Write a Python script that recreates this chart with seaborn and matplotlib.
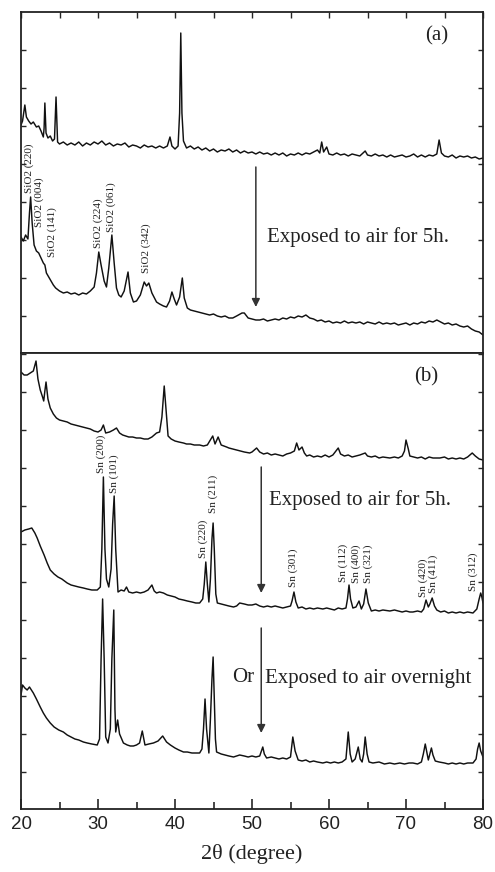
import matplotlib
matplotlib.use("Agg")
import matplotlib.pyplot as plt
import seaborn as sns
import pandas as pd

# ---------------- data (2theta, intensity a.u.) ----------------
# panel (a): as prepared
a1_x = [20.0,20.2,20.5,20.7,21.0,21.3,21.6,22.0,22.3,22.6,22.9,23.0,23.1,23.25,23.5,23.8,24.1,24.35,24.55,24.75,
        25.0,25.5,26.0,26.5,27.0,27.5,28.0,28.5,29.0,29.5,30.0,30.5,31.0,31.5,32.0,32.5,33.0,33.5,34.0,34.5,
        35.0,35.5,36.0,36.5,37.0,37.5,38.0,38.5,39.0,39.35,39.6,40.0,40.4,40.6,40.75,40.9,41.1,41.5,42.0,42.5,
        43.0,43.5,44.0,44.5,45.0,45.5,46.0,46.5,47.0,47.5,48.0,48.5,49.0,49.5,50.0,50.5,51.0,51.5,52.0,52.5,
        53.0,53.5,54.0,54.5,55.0,55.5,56.0,56.5,57.0,57.5,58.0,58.5,58.8,59.05,59.3,59.7,60.0,60.5,61.0,61.5,
        62.0,62.5,63.0,63.5,64.0,64.7,65.0,65.5,66.0,66.5,67.0,67.5,68.0,68.5,69.0,69.5,70.0,70.5,71.0,71.5,
        72.0,72.5,73.0,73.5,74.0,74.3,74.6,75.0,75.5,76.0,76.5,77.0,77.5,78.0,78.5,79.0,79.5,80.0]
a1_y = [228,232,248,236,232,229,231,226,227,222,216,225,250,220,215,217,212,214,256,211,
        209,211,208,210,208,211,207,210,208,211,209,212,208,210,207,209,208,210,206,208,
        207,205,208,206,207,205,207,205,207,216,207,204,207,240,320,240,212,205,207,204,
        206,203,205,202,204,201,203,202,204,201,203,200,202,200,201,199,201,199,200,198,
        200,198,200,197,199,198,200,198,200,199,201,203,200,211,201,206,199,198,200,198,
        199,197,199,198,197,202,198,197,199,197,198,196,198,196,197,198,196,197,199,196,
        198,196,198,197,199,213,200,197,196,198,195,197,196,197,195,196,194,195]

# panel (a): exposed to air 5 h (SiO2)
a2_x = [20.0,20.3,20.6,20.9,21.1,21.25,21.45,21.7,21.8,22.0,22.3,22.6,22.9,23.1,23.3,23.6,23.9,24.2,24.5,25.0,
        25.5,26.0,26.5,27.0,27.5,28.0,28.5,29.0,29.5,29.8,30.1,30.4,30.8,31.1,31.4,31.8,32.1,32.4,32.7,33.0,
        33.4,33.9,34.2,34.6,35.0,35.5,36.0,36.3,36.6,37.0,37.6,38.0,38.5,38.9,39.3,39.6,39.9,40.2,40.6,40.95,
        41.2,41.6,42.0,42.5,43.0,43.5,44.0,44.5,45.0,45.5,46.0,46.5,47.0,47.5,48.0,48.7,49.0,49.5,50.0,50.5,
        51.0,51.5,52.0,52.5,53.0,53.5,54.0,54.5,55.0,55.5,56.0,56.5,57.0,57.5,58.0,58.5,59.0,59.5,60.0,60.5,
        61.0,61.5,62.0,62.5,63.0,63.5,64.0,64.5,65.0,65.5,66.0,66.5,67.0,67.5,68.0,68.5,69.0,69.5,70.0,70.5,
        71.0,71.5,72.0,72.5,73.0,73.5,74.0,74.5,75.0,75.5,76.0,76.5,77.0,77.5,78.0,78.5,79.0,79.5,80.0]
a2_y = [116,112,118,114,140,156,130,108,106,102,100,95,90,88,80,76,72,68,65,62,
        60,61,59,60,58,60,59,62,66,80,101,88,72,66,85,118,90,65,58,56,
        62,81,60,51,52,58,71,67,70,60,51,49,47,46,52,61,54,48,56,75,
        55,45,43,42,41,40,39,38,39,37,36,37,35,35,37,40,40,35,34,33,
        33,34,32,33,34,33,35,34,36,35,37,36,38,35,34,32,33,31,32,30,
        31,30,32,30,31,30,31,29,31,30,29,31,29,30,29,30,28,29,30,28,
        30,29,31,30,32,31,33,31,29,30,28,29,27,26,27,24,22,21,18]

# panel (b): as prepared
b1_x = [20.0,20.4,20.8,21.2,21.6,21.95,22.2,22.5,22.8,22.95,23.1,23.25,23.5,23.8,24.2,24.6,25.0,25.5,26.0,26.5,
        27.0,27.5,28.0,28.5,29.0,29.5,30.0,30.4,30.7,31.0,31.5,32.0,32.4,32.8,33.2,33.6,34.0,34.5,35.0,35.5,
        36.0,36.5,37.0,37.6,38.0,38.3,38.6,38.85,39.1,39.5,40.0,40.5,41.1,41.5,42.0,42.5,43.2,43.7,44.2,44.9,
        45.2,45.6,46.0,46.7,47.0,47.5,48.0,48.5,49.0,49.7,50.0,50.6,51.0,51.5,52.0,52.5,53.0,53.5,54.0,54.5,
        55.0,55.5,55.8,56.1,56.5,56.8,57.1,57.5,58.0,58.5,59.0,59.5,60.0,60.5,61.2,61.5,62.0,62.5,63.0,63.5,
        64.0,64.7,65.0,65.5,66.0,66.5,67.0,67.9,68.5,69.0,69.5,69.8,70.0,70.3,70.5,71.0,71.5,72.0,72.5,73.0,
        73.5,74.4,75.0,75.5,76.0,76.5,77.0,77.5,78.0,78.6,79.0,79.5,80.0]
b1_y = [437,434,434,436,438,448,430,419,412,408,418,427,410,401,395,391,389,388,387,385,
        384,383,382,381,380,378,377,379,384,376,377,379,381,376,374,373,372,372,371,371,
        370,370,372,376,377,392,423,398,373,370,368,367,366,365,365,364,364,363,364,373,
        365,372,364,362,361,360,359,358,357,356,357,361,357,355,356,354,355,354,353,355,
        356,358,366,359,362,356,353,354,352,353,352,354,352,354,361,355,353,354,352,353,
        354,356,353,352,353,351,352,351,352,351,353,358,369,360,353,352,351,352,350,352,
        351,351,352,350,351,350,351,350,352,356,353,350,349]

# panel (b): exposed to air 5 h (Sn)
b2_x = [20.0,20.5,21.0,21.4,21.8,22.1,22.5,23.0,23.4,23.8,24.3,24.8,25.3,26.0,26.5,27.0,27.5,28.1,28.6,29.2,
        29.9,30.3,30.5,30.7,30.9,31.1,31.4,31.7,31.9,32.1,32.3,32.6,33.0,33.4,33.7,34.0,34.5,35.0,35.5,36.0,
        36.5,37.0,37.3,37.6,38.0,38.5,39.0,39.5,40.0,40.5,41.1,41.6,42.2,42.7,43.2,43.6,43.8,44.0,44.2,44.4,
        44.6,44.8,44.95,45.1,45.3,45.5,46.0,46.5,47.0,47.6,48.0,48.4,49.0,49.5,50.0,50.5,51.0,51.5,52.0,52.5,
        53.0,53.5,54.0,54.5,55.0,55.2,55.45,55.7,56.0,56.5,57.0,57.5,58.0,58.5,59.2,59.7,60.2,60.7,61.2,61.7,
        62.2,62.4,62.6,62.8,63.1,63.5,63.9,64.2,64.5,64.8,65.1,65.5,66.0,66.5,67.0,67.9,68.5,69.0,69.5,70.0,
        70.5,70.9,71.5,72.0,72.3,72.6,72.9,73.1,73.4,73.7,74.0,74.5,75.0,75.5,76.0,76.5,77.0,77.5,78.0,78.7,
        79.2,79.5,79.7,79.85,80.0]
b2_y = [277,279,280,281,276,271,263,254,246,239,235,232,230,226,224,223,222,221,220,219,
        219,222,260,332,260,230,222,240,285,313,260,217,219,218,222,217,216,217,216,217,
        219,224,218,216,217,216,214,213,212,210,209,208,207,206,206,210,225,247,225,207,
        230,270,286,260,215,206,205,204,203,202,203,206,205,204,204,205,203,202,203,202,
        203,202,201,202,203,208,217,207,201,202,200,201,200,201,200,201,200,199,201,200,
        201,210,224,210,201,202,208,200,205,220,206,198,199,198,199,198,199,198,197,198,
        197,197,198,197,200,209,202,205,211,203,199,197,198,196,197,196,197,196,197,196,
        200,210,216,212,206]

# panel (b): exposed to air overnight
b3_x = [20.0,20.2,20.5,20.8,21.1,21.6,22.0,22.5,22.9,23.3,23.8,24.3,24.9,25.5,26.0,26.5,27.0,27.5,28.1,28.6,
        29.2,29.9,30.2,30.4,30.6,30.8,31.0,31.3,31.6,31.8,32.05,32.2,32.3,32.55,32.8,33.3,33.8,34.2,34.6,35.0,
        35.4,35.75,36.1,36.6,37.2,37.8,38.4,38.9,39.4,40.0,40.5,41.1,41.6,42.2,42.7,43.2,43.5,43.7,43.9,44.1,
        44.4,44.6,44.8,44.95,45.1,45.25,45.4,46.0,46.5,47.0,47.6,48.0,48.4,49.0,49.5,50.0,50.5,51.0,51.4,51.6,
        51.9,52.5,53.0,53.5,54.0,54.5,55.0,55.3,55.6,56.0,56.5,57.0,57.5,58.0,58.5,59.2,59.7,60.2,60.7,61.2,
        61.7,62.2,62.5,62.75,63.0,63.4,63.8,64.05,64.3,64.5,64.7,64.95,65.2,65.7,66.5,67.2,67.9,68.5,69.2,69.8,
        70.4,70.9,71.5,72.0,72.25,72.5,72.75,72.9,73.1,73.3,73.5,73.8,74.3,75.0,75.5,76.0,76.5,77.0,77.5,78.0,
        78.7,79.1,79.3,79.5,79.7,80.0]
b3_y = [114,124,121,119,122,116,110,102,96,91,86,82,79,77,74,72,70,69,67,66,
        65,64,70,150,210,150,72,66,80,150,199,100,77,89,75,66,64,63,63,64,
        66,78,64,65,66,68,73,67,64,61,59,57,57,56,56,56,60,80,110,80,
        56,90,130,152,110,70,57,55,54,53,52,53,54,53,52,53,52,53,62,55,
        51,52,51,50,51,50,52,72,58,49,48,49,47,48,47,46,47,46,47,46,
        47,50,77,55,47,50,62,50,47,55,72,55,47,46,47,45,46,45,46,45,
        46,46,45,47,55,65,55,49,55,61,54,48,47,46,45,46,45,46,45,46,
        46,50,60,66,58,52]

sio2_labels = ["SiO2 (220)", "SiO2 (004)", "SiO2 (141)", "SiO2 (224)", "SiO2 (061)", "SiO2 (342)"]
sio2_pos = [21.0, 22.3, 24.0, 30.0, 31.7, 36.2]
sio2_h = [160, 126, 96, 105, 121, 80]

sn_labels = ["Sn (200)", "Sn (101)", "Sn (220)", "Sn (211)", "Sn (301)", "Sn (112)",
             "Sn (400)", "Sn (321)", "Sn (420)", "Sn (411)", "Sn (312)"]
sn_pos = [30.4, 32.1, 43.6, 44.95, 55.3, 61.8, 63.5, 65.1, 72.2, 73.5, 78.7]
sn_h = [336, 316, 251, 296, 222, 227, 226, 226, 212, 216, 218]

x_ticks = [20, 30, 40, 50, 60, 70, 80]

# ---------------- figure ----------------
sns.set_style("ticks")
plt.rcParams["font.family"] = ["Liberation Serif", "DejaVu Serif"]

fig = plt.figure(figsize=(4.95, 8.72), dpi=100)
gs = fig.add_gridspec(2, 1, height_ratios=[341, 456], hspace=0,
                      left=21/495, right=483/495, top=1-12/872, bottom=1-809/872)
axa = fig.add_subplot(gs[0])
axb = fig.add_subplot(gs[1], sharex=axa)

lw = 1.05
for ax, curves in ((axa, [(a1_x, a1_y), (a2_x, a2_y)]),
                   (axb, [(b1_x, b1_y), (b2_x, b2_y), (b3_x, b3_y)])):
    for xs, ys in curves:
        df = pd.DataFrame({"x": xs, "y": ys})
        sns.lineplot(data=df, x="x", y="y", ax=ax, color="#111111", lw=lw,
                     estimator=None, sort=False)
    ax.set_xlabel("")
    ax.set_ylabel("")
    for s in ax.spines.values():
        s.set_visible(True)
        s.set_linewidth(1.3)
        s.set_color("#222222")

axa.set_xlim(20, 80)
axa.set_ylim(0, 341)
axb.set_ylim(0, 456)

yt = [37 + 38 * k for k in range(12)]
axa.set_yticks([v for v in yt if v < 341])
axb.set_yticks([v for v in yt if v < 456])

axa.tick_params(axis="y", which="both", direction="in", left=True, right=True,
                labelleft=False, length=3.5, width=1)
axb.tick_params(axis="y", which="both", direction="in", left=True, right=True,
                labelleft=False, length=3.5, width=1)
axa.set_xticks([20, 25, 30, 35, 40, 45, 50, 55, 60, 65, 70, 75, 80])
axa.tick_params(axis="x", which="both", direction="in", top=True, bottom=False,
                labelbottom=False, labeltop=False, length=4, width=1)
axb.set_xticks(x_ticks)
axb.set_xticks([25, 35, 45, 55, 65, 75], minor=True)
axb.tick_params(axis="x", which="major", direction="in", top=False, bottom=True,
                length=7, width=1.2, labelsize=13.5, pad=5)
axb.tick_params(axis="x", which="minor", direction="in", top=False, bottom=True,
                length=5, width=1.2)
axb.set_xticklabels([str(v) for v in x_ticks], family=["Liberation Sans", "DejaVu Sans"],
                    color="#222222")
axb.set_xlabel("2\u03b8 (degree)", fontsize=16, labelpad=8, color="#222222")

# annotations
for lab, xp, hp in zip(sio2_labels, sio2_pos, sio2_h):
    axa.text(xp, hp, lab, rotation=90, ha="center", va="bottom", fontsize=8, color="#222222")
for lab, xp, hp in zip(sn_labels, sn_pos, sn_h):
    axb.text(xp, hp, lab, rotation=90, ha="center", va="bottom", fontsize=8, color="#222222")

axa.text(74.0, 317, "(a)", ha="center", va="center", fontsize=15, color="#222222")
axb.text(72.6, 432, "(b)", ha="center", va="center", fontsize=15, color="#222222")

axa.text(51.95, 116, "Exposed to air for 5h.", ha="left", va="center", fontsize=15, color="#222222")
axb.text(52.2, 309, "Exposed to air for 5h.", ha="left", va="center", fontsize=15, color="#222222")
axb.text(47.4, 131, "Or", ha="left", va="center", fontsize=15, color="#222222")
axb.text(51.7, 131, "Exposed to air overnight", ha="left", va="center", fontsize=15, color="#222222")

arrow_kw = dict(arrowstyle="-|>", color="#333333", lw=1.1, mutation_scale=12, shrinkA=0, shrinkB=0)
axa.annotate("", xy=(50.5, 46), xytext=(50.5, 186), arrowprops=arrow_kw)
axb.annotate("", xy=(51.2, 216), xytext=(51.2, 342), arrowprops=arrow_kw)
axb.annotate("", xy=(51.2, 76), xytext=(51.2, 181), arrowprops=arrow_kw)

fig.savefig("out.png", dpi=100)
